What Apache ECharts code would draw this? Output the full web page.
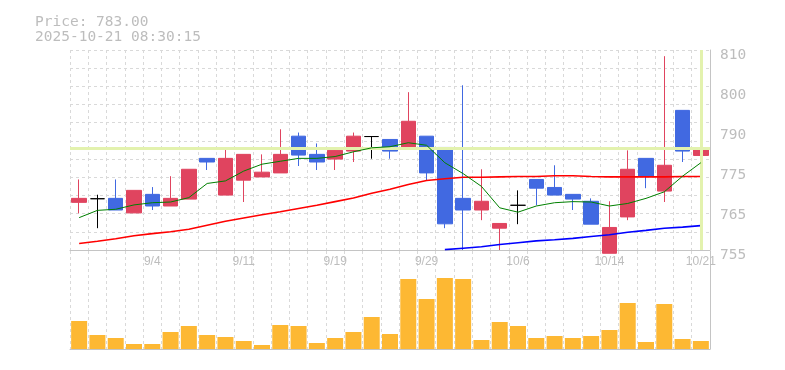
<!DOCTYPE html>
<html><head><meta charset="utf-8">
<script src="https://cdn.jsdelivr.net/npm/echarts@6/dist/echarts.min.js"></script>
<style>html,body{margin:0;padding:0;background:#fff}#c{width:785px;height:370px}</style>
</head><body><div id="c"></div>
<script>
const dates = ['8/29','9/1','9/2','9/3','9/4','9/5','9/8','9/9','9/10','9/11','9/12','9/16','9/17','9/18','9/19','9/22','9/24','9/25','9/26','9/29','9/30','10/1','10/2','10/3','10/6','10/7','10/8','10/9','10/10','10/14','10/15','10/16','10/17','10/20','10/21'];
const opens  = [768.1,769.1,769.2,765.2,770.3,767.1,769.0,780.2,770.1,774.2,775.1,776.2,786.3,781.3,780.0,782.2,786.2,785.4,783.0,786.3,783.2,769.2,766.0,761.0,767.3,774.4,772.2,770.3,768.4,754.1,764.1,780.2,771.2,793.4,781.0];
const closes = [769.2,769.1,766.0,771.4,767.1,769.2,777.2,779.2,780.2,781.3,776.4,781.3,781.1,779.2,782.4,786.3,786.2,782.2,790.4,776.2,762.2,766.0,768.4,762.3,767.3,772.0,770.1,769.0,762.1,761.2,777.2,775.2,778.3,782.2,783.0];
const lows   = [765.1,761.0,766.0,765.2,766.0,767.1,769.0,777.0,770.1,768.2,775.1,776.2,778.1,777.0,777.0,779.2,780.1,780.1,783.0,774.2,761.0,755.0,763.2,755.0,762.1,767.3,770.1,766.0,762.1,754.1,763.2,772.0,768.2,779.2,773.1];
const highs  = [774.4,770.2,774.4,771.4,772.3,775.3,777.2,780.2,783.3,781.3,781.3,788.2,787.3,784.3,783.3,787.3,786.2,785.4,798.4,786.3,783.2,800.3,777.2,762.3,771.4,774.4,778.3,770.3,769.2,768.4,782.4,780.2,808.3,793.4,787.4];
const maShort = [763.9,765.9,766.2,767.4,768.0,768.2,769.4,773.3,774.0,776.7,778.6,779.4,780.2,780.2,780.7,782.0,783.1,783.4,784.5,783.8,779.0,776.0,772.5,766.6,765.4,767.1,768.0,768.3,768.2,767.1,767.8,769.2,771.0,775.3,779.0];
const maMid = [756.8,757.4,758.1,758.9,759.5,760.0,760.7,761.8,762.9,763.8,764.7,765.5,766.4,767.3,768.3,769.3,770.6,771.7,773.0,774.1,774.6,775.0,775.0,775.1,775.2,775.2,775.4,775.4,775.2,775.1,775.1,775.1,775.1,775.2,775.2];
const maLong = [null,null,null,null,null,null,null,null,null,null,null,null,null,null,null,null,null,null,null,null,755.1,755.5,755.9,756.5,757.0,757.5,757.8,758.2,758.7,759.2,759.9,760.4,761.0,761.3,761.7];
const volumes = [84,42,33,15,15,51,69,42,36,24,12,72,69,18,33,51,96,45,210,150,213,210,27,81,69,33,39,33,39,57,138,21,135,30,24];
const shownDates = ['9/4','9/11','9/19','9/29','10/6','10/14','10/21'];
const priceLabels = ['755','765','775','790','800','810'];
const lastPrice = 783.00;
const stamp = '2025-10-21 08:30:15';

const candleData = dates.map((d, i) => {
  const item = { value: [opens[i], closes[i], lows[i], highs[i]] };
  if (opens[i] === closes[i]) {
    item.itemStyle = { color: '#000', color0: '#000', borderColor: '#000', borderColor0: '#000' };
  }
  return item;
});

const MONO = 'DejaVu Sans Mono';
const dash = { color: '#d9d9d9', type: [3, 3], width: 1 };
const axisCol = '#c4c4c4';

const chart = echarts.init(document.getElementById('c'), null, { renderer: 'canvas' });
chart.setOption({
  animation: false,
  backgroundColor: '#fff',
  title: {
    text: 'Price: ' + lastPrice.toFixed(2) + '\n' + stamp,
    left: 30, top: 10,
    textStyle: { fontFamily: MONO, fontSize: 14.5, fontWeight: 'normal', color: '#bdbdbd', lineHeight: 15 }
  },
  grid: [
    { left: 70, top: 50, width: 640, height: 200 },
    { left: 70, top: 251, width: 640, height: 98 }
  ],
  xAxis: [
    {
      type: 'category', gridIndex: 0, data: dates, boundaryGap: true,
      axisLine: { show: true, lineStyle: { color: axisCol } },
      axisTick: { show: false },
      axisLabel: {
        interval: (i, v) => shownDates.includes(v),
        color: '#bdbdbd', fontFamily: 'Liberation Sans', fontSize: 12, margin: 6, hideOverlap: false
      },
      splitLine: { show: true, interval: 0, lineStyle: dash }
    },
    {
      type: 'category', gridIndex: 1, data: dates, boundaryGap: true,
      axisLine: { show: true, lineStyle: { color: axisCol } },
      axisTick: { show: false },
      axisLabel: { show: false },
      splitLine: { show: true, interval: 0, lineStyle: dash }
    }
  ],
  yAxis: [
    {
      type: 'value', gridIndex: 0, position: 'right', min: 755, max: 810, interval: 5,
      axisLine: { show: true, lineStyle: { color: axisCol } },
      axisTick: { show: false }, axisLabel: { show: false },
      splitLine: { show: true, lineStyle: dash }
    },
    {
      type: 'value', gridIndex: 0, position: 'right', min: 0, max: 5, interval: 1,
      axisLine: { show: false }, axisTick: { show: false }, splitLine: { show: false },
      axisLabel: {
        formatter: (v) => priceLabels[Math.round(v)] || '',
        color: '#bdbdbd', fontFamily: MONO, fontSize: 14.5, margin: 10,
        verticalAlign: 'top', lineHeight: 10
      }
    },
    {
      type: 'value', gridIndex: 1, position: 'right', min: 0, max: 294,
      axisLine: { show: true, lineStyle: { color: axisCol } },
      axisTick: { show: false }, axisLabel: { show: false }, splitLine: { show: false }
    }
  ],
  series: [
    {
      type: 'line', xAxisIndex: 0, yAxisIndex: 0, data: [], z: 1, silent: true,
      markLine: {
        symbol: 'none', silent: true, label: { show: false },
        lineStyle: { color: '#e3f2ae', width: 3, type: 'solid' },
        data: [{ yAxis: lastPrice }, { xAxis: dates[dates.length - 1] }]
      }
    },
    {
      type: 'candlestick', xAxisIndex: 0, yAxisIndex: 0, data: candleData, z: 3,
      barWidth: 15, clip: false,
      itemStyle: { color: '#e0445f', color0: '#4169e1', borderColor: '#e0445f', borderColor0: '#4169e1', borderWidth: 1 }
    },
    { type: 'line', xAxisIndex: 0, yAxisIndex: 0, data: maMid, symbol: 'none', z: 4, lineStyle: { color: '#ff0000', width: 1.6 } },
    { type: 'line', xAxisIndex: 0, yAxisIndex: 0, data: maLong, symbol: 'none', z: 4, lineStyle: { color: '#0000ff', width: 1.6 } },
    { type: 'line', xAxisIndex: 0, yAxisIndex: 0, data: maShort, symbol: 'none', z: 5, lineStyle: { color: '#008000', width: 1 } },
    {
      type: 'bar', xAxisIndex: 1, yAxisIndex: 2, data: volumes, barWidth: 16,
      itemStyle: { color: '#fdb833' }
    }
  ]
});
</script></body></html>
